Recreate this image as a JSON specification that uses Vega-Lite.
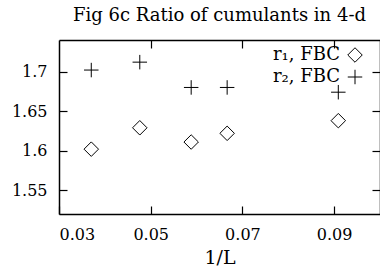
{
  "$schema": "https://vega.github.io/schema/vega-lite/v6.json",
  "autosize": "none",
  "width": 321,
  "height": 174,
  "padding": {"left": 59, "top": 40, "right": 0, "bottom": 60},
  "background": "white",
  "title": {"text": "Fig 6c Ratio of cumulants in 4-d", "font": "DejaVu Serif", "fontSize": 18, "fontWeight": "normal", "color": "black", "anchor": "middle", "offset": 14},
  "config": {
    "view": {"stroke": null},
    "axis": {"labelFont": "DejaVu Serif", "labelFontSize": 16, "labelColor": "black", "titleFont": "DejaVu Serif", "titleFontSize": 19, "titleFontWeight": "normal", "titleColor": "black", "domainColor": "black", "tickColor": "black", "grid": false, "tickSize": -8, "domainWidth": 1.5, "tickWidth": 1.2}
  },
  "data": {"values": [
    {"invL": 0.037037, "r": 1.602, "series": "r₁, FBC"},
    {"invL": 0.047619, "r": 1.629, "series": "r₁, FBC"},
    {"invL": 0.058824, "r": 1.611, "series": "r₁, FBC"},
    {"invL": 0.066667, "r": 1.622, "series": "r₁, FBC"},
    {"invL": 0.090909, "r": 1.638, "series": "r₁, FBC"},
    {"invL": 0.037037, "r": 1.702, "series": "r₂, FBC"},
    {"invL": 0.047619, "r": 1.712, "series": "r₂, FBC"},
    {"invL": 0.058824, "r": 1.680, "series": "r₂, FBC"},
    {"invL": 0.066667, "r": 1.680, "series": "r₂, FBC"},
    {"invL": 0.090909, "r": 1.674, "series": "r₂, FBC"}
  ]},
  "layer": [
    {
      "mark": {"type": "point", "filled": false, "stroke": "black", "strokeWidth": 1, "size": 210, "opacity": 1},
      "encoding": {
        "x": {"field": "invL", "type": "quantitative", "scale": {"domain": [0.03, 0.1], "nice": false, "zero": false},
              "axis": {"orient": "bottom", "title": "1/L", "values": [0.03, 0.05, 0.07, 0.09], "format": "~g", "labelPadding": 20, "titlePadding": 6}},
        "y": {"field": "r", "type": "quantitative", "scale": {"domain": [1.52, 1.74], "nice": false, "zero": false},
              "axis": {"orient": "left", "title": null, "values": [1.55, 1.6, 1.65, 1.7], "format": "~g", "labelPadding": 20}},
        "shape": {"field": "series", "type": "nominal",
                  "scale": {"domain": ["r₁, FBC", "r₂, FBC"], "range": ["M-1,0L0,-1L1,0L0,1Z", "M-1,0H1M0,-1V1"]},
                  "legend": {"orient": "none", "legendX": 287, "legendY": 6, "title": null, "labelAlign": "right", "labelOffset": -24, "labelFont": "DejaVu Serif", "labelFontSize": 18, "labelColor": "black", "symbolSize": 210, "symbolStrokeWidth": 1, "symbolStrokeColor": "black", "symbolFillColor": "transparent", "rowPadding": 2}}
      }
    },
    {
      "mark": {"type": "point", "opacity": 0},
      "encoding": {
        "x": {"field": "invL", "type": "quantitative", "axis": {"orient": "top", "title": null, "values": [0.05, 0.07, 0.09], "labels": false}},
        "y": {"field": "r", "type": "quantitative", "axis": {"orient": "right", "title": null, "values": [1.55, 1.6, 1.65, 1.7], "labels": false}}
      }
    }
  ],
  "resolve": {"axis": {"x": "independent", "y": "independent"}}
}
